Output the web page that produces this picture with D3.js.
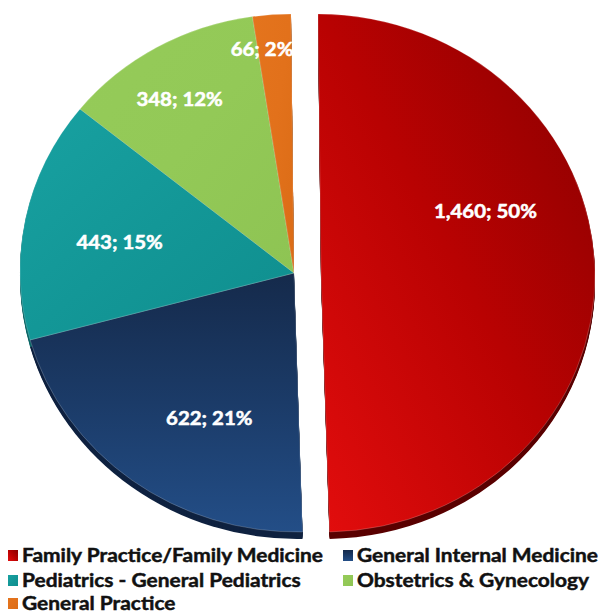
<!DOCTYPE html>
<html><head><meta charset="utf-8">
<script src="https://cdn.jsdelivr.net/npm/d3@7"></script>
<style>body{margin:0;background:#fff;}svg{display:block;}</style>
</head><body>
<svg id="c" width="603" height="613"></svg>
<script>
const categories = ["Family Practice/Family Medicine","General Internal Medicine","Pediatrics - General Pediatrics","Obstetrics & Gynecology","General Practice"];
const values = [1460, 622, 443, 348, 66];
const percents = ["50%","21%","15%","12%","2%"];
const colors = ["#c00000","#1f3f6e","#139898","#93c957","#e2711b"];

const cx = 294, cy = 273, r = 274, sy = 259/274, depth = 7, explode = 27;
const svg = d3.select("#c");
const defs = svg.append("defs");
const FONT = "Lato, 'Open Sans', sans-serif";

const grads = [
  {x1:"0%",y1:"100%",x2:"100%",y2:"0%",stops:["#e20d0d","#b90202","#880000"]},
  {x1:"0%",y1:"0%",x2:"0%",y2:"100%",stops:["#152a4b","#1b3b68","#234e87"]},
  {x1:"0%",y1:"0%",x2:"100%",y2:"100%",stops:["#18a1a1","#139797","#0f8e8e"]},
  {x1:"0%",y1:"0%",x2:"100%",y2:"100%",stops:["#95cb59","#93c957","#8ec453"]},
  {x1:"0%",y1:"0%",x2:"100%",y2:"100%",stops:["#e4741d","#e2711b","#db6c16"]}
];
grads.forEach((g,i)=>{
  const lg = defs.append("linearGradient").attr("id","g"+i)
    .attr("x1",g.x1).attr("y1",g.y1).attr("x2",g.x2).attr("y2",g.y2);
  g.stops.forEach((c,j)=>lg.append("stop").attr("offset",(j/(g.stops.length-1)*100)+"%").attr("stop-color",c));
});

const pie = d3.pie().sort(null).value(d=>d);
const arcs = pie(values);
const arc = d3.arc().innerRadius(0).outerRadius(r);

const skew = Math.atan(6/518)*180/Math.PI;
const root = svg.append("g").attr("transform",`translate(${cx},${cy})`);

function sliceG(parent, i, dy){
  const dx = i===0 ? explode : 0;
  return parent.append("g").attr("transform",`translate(${dx},${dy}) skewX(${skew}) scale(1,${sy})`);
}
const shade = ["#5a0000","#0f2240","#0b6666","#5f8a33","#9a4a0e"];
arcs.forEach((a,i)=>{
  for(let k=depth;k>0;k--){
    sliceG(root,i,k).append("path").attr("d",arc(a)).attr("fill",shade[i]);
  }
});
arcs.forEach((a,i)=>{
  sliceG(root,i,0).append("path").attr("d",arc(a)).attr("fill",`url(#g${i})`)
    .attr("stroke","rgba(255,255,255,0.35)").attr("stroke-width",0.6);
});

// label layout: angle (deg clockwise from top), radial fraction
const labelLayout = [[68.5,0.645],[208.9,0.64],[280.4,0.647],[328.1,0.79],[352.3,0.872]];
const fmt = d3.format(",");
const labels = arcs.map((a,i)=>{
  const [ang,f] = labelLayout[i];
  const t = ang*Math.PI/180;
  const x = (i===0?explode:0) + Math.sin(t)*r*f;
  const y = -Math.cos(t)*r*f*sy;
  return root.append("text").attr("x",x).attr("y",y).attr("dy","0.36em")
    .attr("text-anchor","middle").attr("fill","#fff")
    .attr("stroke","#fff").attr("stroke-width",0.5)
    .attr("font-family",FONT).attr("font-weight","bold")
    .attr("font-size",18).text(`${fmt(values[i])}; ${percents[i]}`);
});
const lblScale = 103 / labels[0].node().getComputedTextLength();
labels.forEach(t=>t.attr("textLength", t.node().getComputedTextLength()*lblScale).attr("lengthAdjust","spacingAndGlyphs"));

// legend
const legPos = [[8,562],[343,562],[8,587],[343,587],[8,610]];
const leg = svg.append("g");
const legTexts = categories.map((c,i)=>{
  const [x,y] = legPos[i];
  leg.append("rect").attr("x",x).attr("y",y-12).attr("width",10).attr("height",11).attr("fill",`url(#g${i})`);
  return leg.append("text").attr("x",x+14).attr("y",y)
    .attr("font-family",FONT).attr("font-weight","bold")
    .attr("stroke","#111").attr("stroke-width",0.45)
    .attr("font-size",18).attr("fill","#111").text(c);
});
const legScale = 301 / legTexts[0].node().getComputedTextLength();
legTexts.forEach(t=>t.attr("textLength", t.node().getComputedTextLength()*legScale).attr("lengthAdjust","spacingAndGlyphs"));
</script>
</body></html>
